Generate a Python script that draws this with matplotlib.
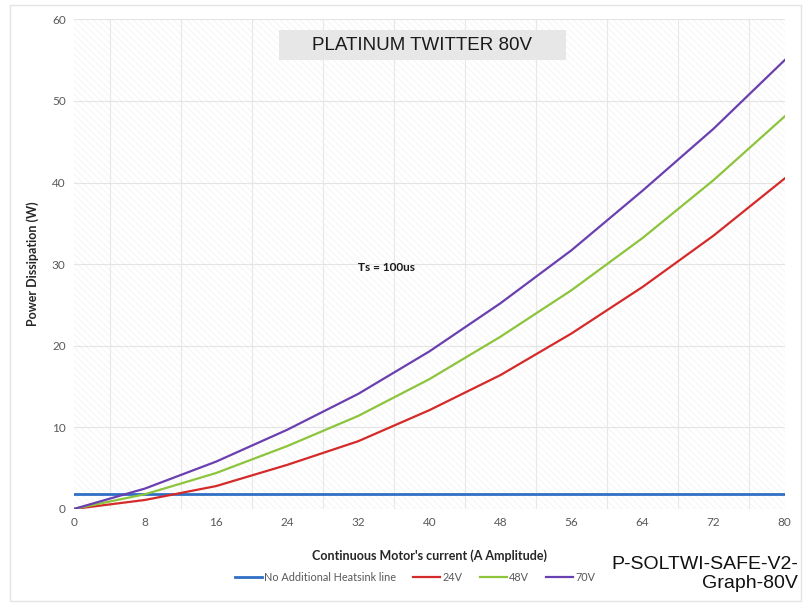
import matplotlib
matplotlib.use("Agg")
import matplotlib.pyplot as plt
from matplotlib.patches import Rectangle

# Motor current (A amplitude) and power dissipation (W) per supply voltage
current = [0, 8, 16, 24, 32, 40, 48, 56, 64, 72, 80]
p_24v = [0, 1.1, 2.8, 5.4, 8.3, 12.1, 16.4, 21.5, 27.2, 33.5, 40.5]
p_48v = [0, 1.8, 4.4, 7.7, 11.4, 15.9, 21.1, 26.8, 33.2, 40.3, 48.1]
p_70v = [0, 2.5, 5.8, 9.7, 14.1, 19.3, 25.2, 31.7, 39.0, 46.6, 55.0]
heatsink_limit = 1.8

x_ticks = [0, 8, 16, 24, 32, 40, 48, 56, 64, 72, 80]
y_ticks = [0, 10, 20, 30, 40, 50, 60]

plt.rcParams["font.family"] = ["Lato", "DejaVu Sans"]
plt.rcParams["hatch.color"] = "#f1f1f1"
plt.rcParams["hatch.linewidth"] = 0.5

fig = plt.figure(figsize=(8.04, 6.03), dpi=100)
fig.patch.set_facecolor("white")

# faint chart frame
fig.patches.append(Rectangle((0.012, 0.004), 0.984, 0.988, transform=fig.transFigure,
                             fill=False, edgecolor="#e4e4e4", linewidth=1.0))

ax = fig.add_axes([0.092, 0.156, 0.884, 0.812])
ax.set_xlim(0, 80)
ax.set_ylim(0, 60)

# hatched plot-area background
ax.add_patch(Rectangle((0, 0), 1, 1, transform=ax.transAxes, facecolor="white",
                       edgecolor="#f1f1f1", hatch="\\\\\\\\\\", linewidth=0, zorder=0))

for s in ax.spines.values():
    s.set_visible(False)

ax.set_xticks(x_ticks)
ax.set_yticks(y_ticks)
ax.set_xticks(range(0, 81, 4), minor=True)
ax.tick_params(axis="both", which="both", length=0, colors="#595959", labelsize=8.5, pad=6)
ax.grid(which="major", axis="y", color="#e4e4e4", linewidth=0.8)
ax.grid(which="minor", axis="x", color="#e8e8e8", linewidth=0.8)
ax.set_axisbelow(True)

ax.plot([0, 80], [heatsink_limit, heatsink_limit], color="#2f6fc4", linewidth=2.0,
        label="No Additional Heatsink line", zorder=3)
ax.plot(current, p_24v, color="#d42a2a", linewidth=1.6, label="24V", zorder=3)
ax.plot(current, p_48v, color="#8cc43c", linewidth=1.6, label="48V", zorder=3)
ax.plot(current, p_70v, color="#6a3fb0", linewidth=1.6, label="70V", zorder=3)

ax.set_xlabel("Continuous Motor's current (A Amplitude)", fontsize=9, fontweight="bold",
              color="#262626", labelpad=15)
ax.set_ylabel("Power Dissipation (W)", fontsize=9, fontweight="bold",
              color="#262626", labelpad=9)

ax.text(35.2, 29.6, "Ts = 100us", fontsize=8.5, fontweight="bold", color="#1a1a1a",
        ha="center", va="center", zorder=4)

# title badge
ax.add_patch(Rectangle(((279 - 74) / 711, (509 - 60) / 490), 287 / 711, 30 / 490,
                       transform=ax.transAxes, facecolor="#e6e7e6", edgecolor="none", zorder=4))
ax.text((422.5 - 74) / 711, (509 - 45) / 490, "PLATINUM TWITTER 80V",
        transform=ax.transAxes, ha="center", va="center", fontsize=13.5,
        family=["Liberation Sans", "DejaVu Sans"], color="#1a1a1a", zorder=5)

leg = ax.legend(loc="upper center", bbox_to_anchor=(0.48, -0.108), ncol=4, frameon=False,
                fontsize=7.8, handlelength=2.5, handletextpad=0.2, columnspacing=1.6)
for t in leg.get_texts():
    t.set_color("#595959")

fig.text(0.993, 0.048, "P-SOLTWI-SAFE-V2-\nGraph-80V", ha="right", va="center",
         fontsize=14, family=["Liberation Sans", "DejaVu Sans"], color="#111111",
         linespacing=1.1)

fig.savefig("out.png", dpi=100)
